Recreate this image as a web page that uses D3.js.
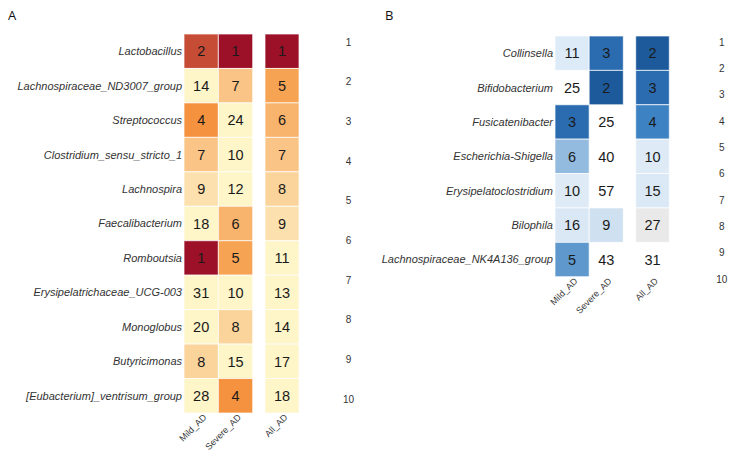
<!DOCTYPE html>
<html><head><meta charset="utf-8">
<script src="https://cdn.jsdelivr.net/npm/d3@7"></script>
<style>body{margin:0;background:#fff;}svg{display:block;font-family:"Liberation Sans",Arial,sans-serif;}</style>
</head><body>
<svg id="c" width="736" height="457"></svg>
<script>
// Panel A data
const aTaxa = ["Lactobacillus","Lachnospiraceae_ND3007_group","Streptococcus","Clostridium_sensu_stricto_1","Lachnospira","Faecalibacterium","Romboutsia","Erysipelatrichaceae_UCG-003","Monoglobus","Butyricimonas","[Eubacterium]_ventrisum_group"];
const aMild = [2,14,4,7,9,18,1,31,20,8,28];
const aSevere = [1,7,24,10,12,6,5,10,8,15,4];
const aAll = [1,5,6,7,8,9,11,13,14,17,18];
// Panel B data
const bTaxa = ["Collinsella","Bifidobacterium","Fusicatenibacter","Escherichia-Shigella","Erysipelatoclostridium","Bilophila","Lachnospiraceae_NK4A136_group"];
const bMild = [11,25,3,6,10,16,5];
const bSevere = [3,2,25,40,57,9,43];
const bAll = [2,3,4,10,15,27,31];
const bMildShaded = [true,false,true,true,true,true,true];
const bSevereShaded = [true,true,false,false,false,true,false];
const bAllShaded = [true,true,true,true,true,true,false];
const columns = ["Mild_AD","Severe_AD","All_AD"];
const sideTicks = [1,2,3,4,5,6,7,8,9,10];

const svg = d3.select("#c");

const colA = d3.scaleLinear()
  .domain([1,2,4,5,6,7,8,9,10,40])
  .range(["#9c1127","#c64c35","#f5923f","#f6a354","#f8b36c","#f9c485","#fbd49c","#fce1ae","#fef5c8","#fef5c8"])
  .clamp(true);
const colB = d3.scaleLinear()
  .domain([2,3,4,5,6,9,10,16,27])
  .range(["#1d5a9b","#2b6cb0","#3d82c2","#5e98cd","#93badf","#cfe0f1","#deebf7","#dae7f4","#e9e9e9"])
  .clamp(true);

function panel(cfg){
  const g = svg.append("g");
  const y = d3.scaleBand().domain(cfg.taxa).range(cfg.yr);
  const x12 = d3.scaleBand().domain(columns.slice(0,2)).range(cfg.x12);
  const x3 = d3.scaleBand().domain(columns.slice(2)).range(cfg.x3);
  const xs = c => c === "All_AD" ? x3 : x12;
  const series = [cfg.mild, cfg.severe, cfg.all];
  const shaded = cfg.shaded || [null,null,null];
  columns.forEach((c,ci)=>{
    const xs_ = xs(c);
    const cells = g.append("g").selectAll("g").data(cfg.taxa.map((t,i)=>({t,v:series[ci][i],s:shaded[ci]?shaded[ci][i]:true})))
      .join("g");
    cells.filter(d=>d.s).append("rect")
      .attr("x", xs_(c)).attr("y", d=>y(d.t))
      .attr("width", xs_.bandwidth()).attr("height", y.bandwidth())
      .attr("fill", d=>cfg.color(d.v))
      .attr("stroke","#ffffff").attr("stroke-width",1).attr("stroke-opacity",0.7);
    cells.append("text")
      .attr("x", xs_(c)+xs_.bandwidth()/2).attr("y", d=>y(d.t)+y.bandwidth()/2)
      .attr("text-anchor","middle").attr("dy","0.36em")
      .attr("font-size",14.5).attr("fill","#1a1a1a")
      .text(d=>d.v);
    // column label
    g.append("text")
      .attr("transform",`translate(${xs_(c)+xs_.bandwidth()/2+6},${cfg.yr[1]+5}) rotate(-45)`)
      .attr("text-anchor","end").attr("font-size",9).attr("fill","#333")
      .text(c);
  });
  // row labels
  g.append("g").selectAll("text").data(cfg.taxa).join("text")
    .attr("x", cfg.x12[0]-2).attr("y", d=>y(d)+y.bandwidth()/2)
    .attr("dy","0.36em").attr("text-anchor","end")
    .attr("font-size",11).attr("font-style","italic").attr("fill","#333")
    .text(d=>d);
  // side ticks
  const sy = d3.scalePoint().domain(sideTicks).range(cfg.side);
  g.append("g").selectAll("text").data(sideTicks).join("text")
    .attr("x", cfg.sideX).attr("y", d=>sy(d))
    .attr("dy","0.36em").attr("text-anchor","middle")
    .attr("font-size",10).attr("fill","#333")
    .text(d=>d);
  svg.append("text").attr("x",cfg.letter[0]).attr("y",cfg.letter[1])
    .attr("font-size",13).attr("font-family","'Open Sans',sans-serif").attr("fill","#111").text(cfg.name);
}

panel({name:"A", letter:[8,20], taxa:aTaxa, mild:aMild, severe:aSevere, all:aAll, color:colA,
  yr:[34,413], x12:[184,252.7], x3:[265,299], side:[42,399], sideX:348.5});
panel({name:"B", letter:[385,20], taxa:bTaxa, mild:bMild, severe:bSevere, all:bAll, color:colB,
  shaded:[bMildShaded,bSevereShaded,bAllShaded],
  yr:[36,276.7], x12:[555,623.3], x3:[635.7,669.3], side:[42,279], sideX:721.7});
</script>
</body></html>
